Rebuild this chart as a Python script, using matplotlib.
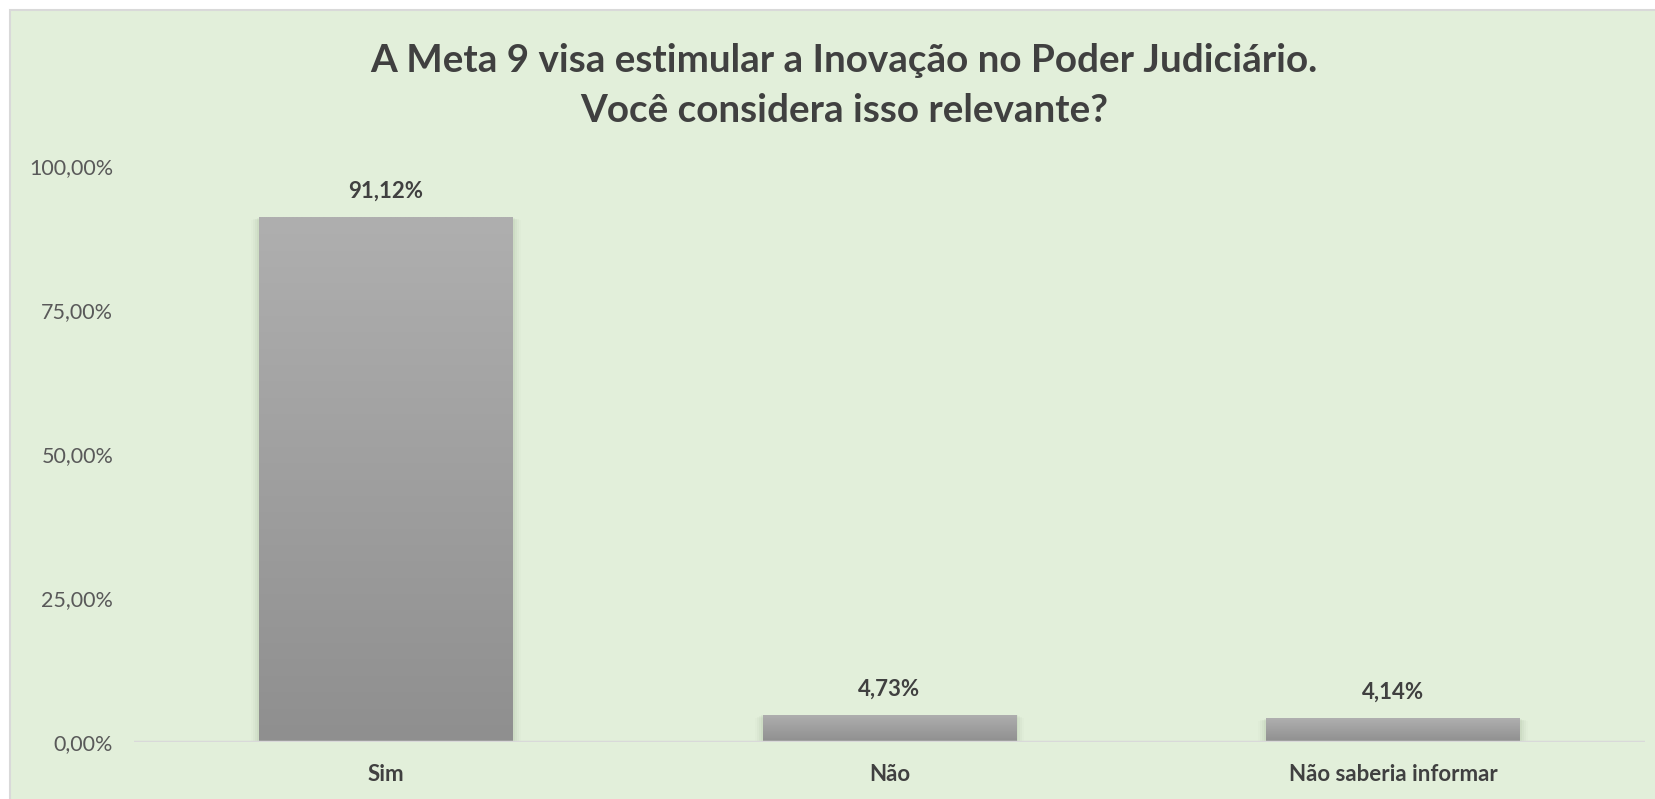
import matplotlib
matplotlib.use("Agg")
import matplotlib.pyplot as plt
import numpy as np
from matplotlib.patches import Rectangle
from matplotlib.ticker import FuncFormatter
from matplotlib.colors import LinearSegmentedColormap

categories = ["Sim", "Não", "Não saberia informar"]
values = [0.9112, 0.0473, 0.0414]
value_labels = ["91,12%", "4,73%", "4,14%"]
title_lines = ["A Meta 9 visa estimular a Inovação no Poder Judiciário.",
               "Você considera isso relevante?"]

W, H = 1656, 799
plt.rcParams['font.family'] = ['Lato', 'DejaVu Sans']
fig = plt.figure(figsize=(W / 100, H / 100), dpi=100)
fig.patch.set_facecolor("white")

bg = "#E2EFDA"
fig.patches.append(Rectangle((10 / W, -0.02), 1.02 - 10 / W, 1.02 - 10 / H, transform=fig.transFigure,
                             facecolor=bg, edgecolor="#D9D9D9", lw=1.5, zorder=-5))

left, right = 134, 1645
top_px, base_px = 166, 742
ax = fig.add_axes([left / W, (H - base_px) / H, (right - left) / W, (base_px - top_px) / H])
ax.set_zorder(2)
ax.set_facecolor("none")
ax.set_xlim(-0.5, 2.5)
ax.set_ylim(0, 1)
for s in ax.spines.values():
    s.set_visible(False)

x = np.arange(len(categories))
width = 0.503
bars = ax.bar(x, values, width=width, color="none", zorder=3)

grad = np.linspace(0, 1, 256).reshape(-1, 1)
cmap = LinearSegmentedColormap.from_list("g", ["#8F8F8F", "#AFAFAF"])
for b in bars:
    bx, by, bw, bh = b.get_x(), b.get_y(), b.get_width(), b.get_height()
    for i, a in enumerate([0.05, 0.04, 0.03, 0.02]):
        d = (i + 1) * 0.004
        ax.add_patch(Rectangle((bx - d, by - d * 1.5), bw + 2 * d, bh + d * 1.2,
                               facecolor="#556B4A", alpha=a, lw=0, zorder=2))
    im = ax.imshow(grad, extent=[bx, bx + bw, by, by + bh], origin="lower",
                   cmap=cmap, aspect="auto", zorder=3)
    im.set_clip_path(b)

ax.set_xlim(-0.5, 2.5)
ax.set_ylim(0, 1)

ax.axhline(0, color="#D9D9D9", lw=2.5, zorder=4)

for xi, v, lab in zip(x, values, value_labels):
    ax.annotate(lab, (xi, v), xytext=(0, 18.5), textcoords="offset points",
                ha="center", va="center", fontsize=16, fontweight="bold", color="#404040")

ax.set_yticks([0, 0.25, 0.5, 0.75, 1.0])
ax.yaxis.set_major_formatter(FuncFormatter(lambda v, p: f"{v*100:.2f}%".replace(".", ",")))
ax.tick_params(axis="y", length=0, pad=15, labelsize=15.5, labelcolor="#595959")
ax.set_xticks(x)
ax.set_xticklabels(categories, fontsize=16, fontweight="bold", color="#404040")
ax.tick_params(axis="x", length=0, pad=16)

fig.text(844 / W, 1 - 60 / H, title_lines[0], ha="center", va="center",
         fontsize=27.8, fontweight="bold", color="#404040")
fig.text(844 / W, 1 - 110 / H, title_lines[1], ha="center", va="center",
         fontsize=27.8, fontweight="bold", color="#404040")

fig.savefig("out.png", dpi=100, facecolor=fig.get_facecolor())
